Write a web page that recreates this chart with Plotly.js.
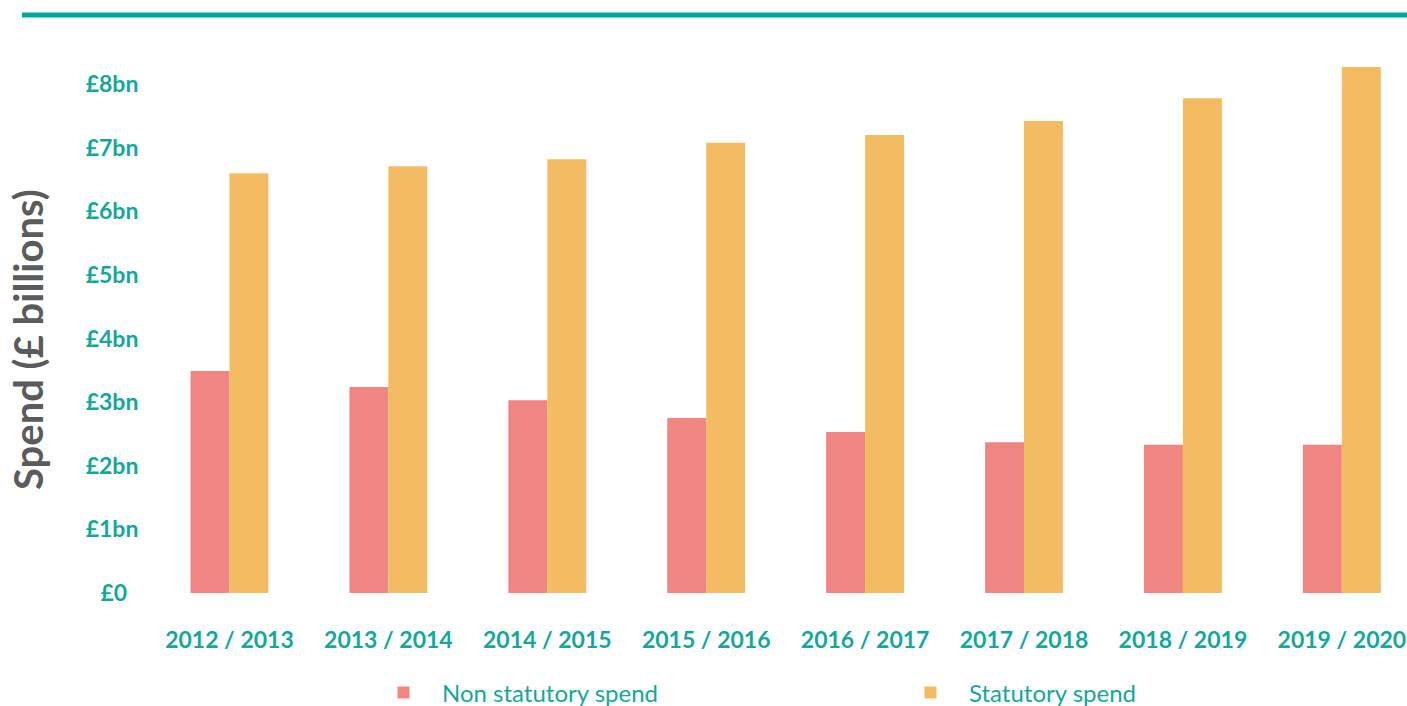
<!DOCTYPE html>
<html>
<head>
<meta charset="utf-8">
<script src="https://cdn.plot.ly/plotly-3.0.1.min.js"></script>
<style>html,body{margin:0;padding:0;background:#fff;}#chart{width:1407px;height:706px;}</style>
</head>
<body>
<div id="chart"></div>
<script>
const years = ["2012 / 2013","2013 / 2014","2014 / 2015","2015 / 2016","2016 / 2017","2017 / 2018","2018 / 2019","2019 / 2020"];
const nonStatutory = [3.49, 3.24, 3.03, 2.75, 2.53, 2.37, 2.33, 2.33];
const statutory = [6.60, 6.71, 6.82, 7.08, 7.20, 7.42, 7.78, 8.27];
const tickVals = [0,1,2,3,4,5,6,7,8];
const tickText = ["£0\u00a0\u00a0","£1bn","£2bn","£3bn","£4bn","£5bn","£6bn","£7bn","£8bn"];

const teal = "#13a89b";
const L = 150, R = 0, T = 60, B = 113, W = 1407, H = 706;
const pw = W - L - R, ph = H - T - B;

const traces = [
  {type:"bar", name:"Non statutory spend", x:years, y:nonStatutory, marker:{color:"#f08582"}, hoverinfo:"y", legend:"legend"},
  {type:"bar", name:"Statutory spend", x:years, y:statutory, marker:{color:"#f3bc62"}, hoverinfo:"y", legend:"legend2"}
];

const legendFont = {family:"Lato, sans-serif", size:24, color:teal};
const layout = {
  width: W, height: H,
  margin: {l:L, r:R, t:T, b:B, autoexpand:false},
  paper_bgcolor:"#fff", plot_bgcolor:"#fff",
  barmode:"group", bargap:0.51, bargroupgap:0,
  font:{family:"Lato, sans-serif", color:teal},
  xaxis:{
    range:[-0.5, 7.41], showgrid:false, zeroline:false, showline:false,
    ticks:"outside", ticklen:26, tickcolor:"rgba(0,0,0,0)",
    tickfont:{family:"Lato, sans-serif", size:23, color:teal, weight:"bold"}
  },
  yaxis:{
    range:[0, ph/63.6], tickvals:tickVals, ticktext:tickText,
    showgrid:false, zeroline:false, showline:false,
    ticks:"outside", ticklen:6, tickcolor:"rgba(0,0,0,0)",
    tickfont:{family:"Lato, sans-serif", size:23, color:teal, weight:"bold"}
  },
  showlegend:true,
  legend:{
    xref:"container", yref:"container",
    x:365/W, xanchor:"left", y:(706-693)/H, yanchor:"middle",
    orientation:"h", font:legendFont, bgcolor:"rgba(0,0,0,0)", itemwidth:67
  },
  legend2:{
    xref:"container", yref:"container",
    x:892/W, xanchor:"left", y:(706-693)/H, yanchor:"middle",
    orientation:"h", font:legendFont, bgcolor:"rgba(0,0,0,0)", itemwidth:67
  },
  annotations:[{
    text:"Spend (£ billions)", textangle:-90, showarrow:false,
    xref:"paper", yref:"paper", x:(28-L)/pw, y:(593-340)/ph, xanchor:"center", yanchor:"middle",
    font:{family:"Lato, sans-serif", size:40, color:"#5b5b5b", weight:"bold"}
  }],
  shapes:[{
    type:"line", xref:"paper", yref:"paper",
    x0:(22-L)/pw, x1:1.0, y0:(593-15)/ph, y1:(593-15)/ph,
    line:{color:"#00a99d", width:5}
  }]
};

Plotly.newPlot("chart", traces, layout, {displayModeBar:false, staticPlot:true});
</script>
</body>
</html>
